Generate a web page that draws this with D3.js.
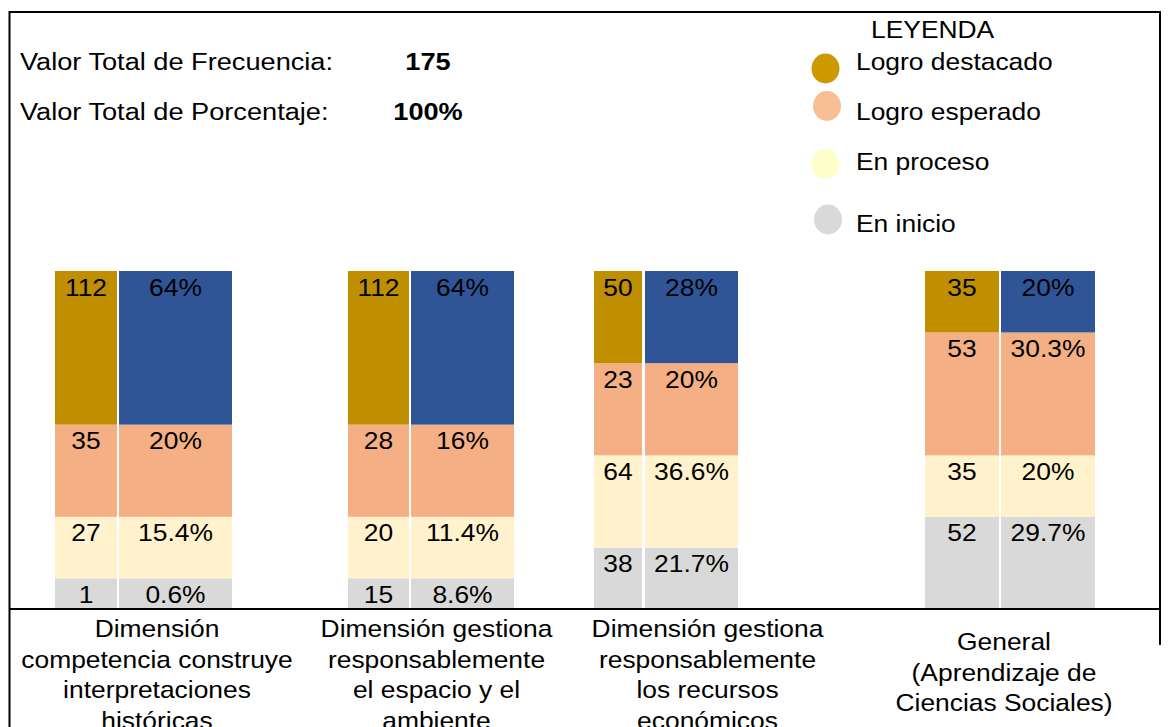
<!DOCTYPE html>
<html><head><meta charset="utf-8">
<script src="https://cdn.jsdelivr.net/npm/d3@7/dist/d3.min.js"></script>
<style>
body{margin:0;background:#fff;}
svg{display:block;font-family:"Liberation Sans",Arial,Helvetica,sans-serif;}
</style>
</head><body>
<svg id="chart" width="1170" height="727"></svg>
<script>
// ---------------- DATA ----------------
const categories = ["competencia", "espacio", "recursos", "general"];
const categoryLabels = [
  ["Dimensión", "competencia construye", "interpretaciones", "históricas"],
  ["Dimensión gestiona", "responsablemente", "el espacio y el", "ambiente"],
  ["Dimensión gestiona", "responsablemente", "los recursos", "económicos"],
  ["General", "(Aprendizaje de", "Ciencias Sociales)"]
];
const levels = ["Logro destacado", "Logro esperado", "En proceso", "En inicio"];
// values per category, in order of levels (top to bottom)
const frequencies = [
  [112, 35, 27, 1],
  [112, 28, 20, 15],
  [50, 23, 64, 38],
  [35, 53, 35, 52]
];
const percentages = [
  [64, 20, 15.4, 0.6],
  [64, 16, 11.4, 8.6],
  [28, 20, 36.6, 21.7],
  [20, 30.3, 20, 29.7]
];
// drawn height of each segment (in blocks)
const segmentBlocks = [
  [5, 3, 2, 1],
  [5, 3, 2, 1],
  [3, 3, 3, 2],
  [2, 4, 2, 3]
];
const totalFrequency = 175;
const totalPercentage = 100;
const legendTitle = "LEYENDA";

// ---------------- STYLE / LAYOUT ----------------
const W = 1170, H = 727;
const freqColors = ["#BF8F00", "#F4B084", "#FFF2CC", "#D9D9D9"];
const pctColors  = ["#2F5597", "#F4B084", "#FFF2CC", "#D9D9D9"];
const legendColors = ["#CC9900", "#F8BF95", "#FFFFCC", "#D9D9D9"];
const FONT = 24, SX = 1.1;

const groupLeft  = d3.scaleOrdinal().domain(categories).range([55, 348, 594, 925]);
const freqWidth  = d3.scaleOrdinal().domain(categories).range([62, 61, 48, 74]);
const barGap     = d3.scaleOrdinal().domain(categories).range([2, 2, 3, 2]);
const pctWidth   = d3.scaleOrdinal().domain(categories).range([113, 103, 93, 94]);
const labelX     = d3.scaleOrdinal().domain(categories).range([157, 436.5, 707.5, 1004]);
const labelY0    = d3.scaleOrdinal().domain(categories).range([637, 637, 637, 650]);

const totalBlocks = d3.max(segmentBlocks, d => d3.sum(d));
const y = d3.scaleLinear().domain([0, totalBlocks]).range([609, 271]);

const legendY = d3.scaleOrdinal().domain(levels).range([68.5, 106, 164, 219.5]);
const legendX = d3.scaleOrdinal().domain(levels).range([825.5, 827, 825.5, 828]);
const legendTextY = d3.scaleOrdinal().domain(levels).range([70, 119.5, 170, 231.5]);

const svg = d3.select("#chart");

function txt(g, x, yy, s, opts = {}) {
  return g.append("text")
    .attr("transform", `translate(${x},${yy}) scale(${SX},1)`)
    .attr("text-anchor", opts.anchor || "start")
    .attr("font-size", opts.size || FONT)
    .attr("font-weight", opts.weight || "normal")
    .attr("fill", "#000")
    .text(s);
}

// border lines
const border = svg.append("g").attr("stroke", "#000").attr("stroke-width", 2).attr("fill", "none");
border.append("path").attr("d", `M9.5,${H} V12 H1160 V645`);

// header
const header = svg.append("g");
txt(header, 20, 70, "Valor Total de Frecuencia:", {size: 24.7});
txt(header, 428, 70, String(totalFrequency), {anchor: "middle", weight: "bold", size: 24.7});
txt(header, 20, 120, "Valor Total de Porcentaje:", {size: 24.7});
txt(header, 428, 120, totalPercentage + "%", {anchor: "middle", weight: "bold", size: 24.7});

// legend
const legend = svg.append("g");
txt(legend, 871, 38, legendTitle);
levels.forEach((lv, i) => {
  legend.append("ellipse")
    .attr("cx", legendX(lv)).attr("cy", legendY(lv))
    .attr("rx", 14).attr("ry", 15)
    .attr("fill", legendColors[i]);
  txt(legend, 856, legendTextY(lv), lv);
});

// bars
const stackKeys = d3.range(levels.length).reverse(); // bottom first
categories.forEach((cat, ci) => {
  const blocks = segmentBlocks[ci];
  let acc = 0;
  const segs = stackKeys.map(k => {
    const s = {k, y0: acc, y1: acc + blocks[k]};
    acc += blocks[k];
    return s;
  });
  const g = svg.append("g");
  const fx = groupLeft(cat), fw = freqWidth(cat);
  const px = fx + fw + barGap(cat), pw = pctWidth(cat);
  segs.forEach(s => {
    g.append("rect").attr("x", fx).attr("width", fw)
      .attr("y", y(s.y1)).attr("height", y(s.y0) - y(s.y1))
      .attr("fill", freqColors[s.k]);
    g.append("rect").attr("x", px).attr("width", pw)
      .attr("y", y(s.y1)).attr("height", y(s.y0) - y(s.y1))
      .attr("fill", pctColors[s.k]);
    txt(g, fx + fw / 2, y(s.y1) + 24.5, String(frequencies[ci][s.k]), {anchor: "middle"});
    txt(g, px + pw / 2, y(s.y1) + 24.5, percentages[ci][s.k] + "%", {anchor: "middle"});
  });
});

// x axis line
svg.append("line").attr("x1", 9.5).attr("x2", 1160).attr("y1", y(0)).attr("y2", y(0))
  .attr("stroke", "#000").attr("stroke-width", 2);

// category labels
categories.forEach((cat, ci) => {
  const g = svg.append("g");
  categoryLabels[ci].forEach((line, li) => {
    txt(g, labelX(cat), labelY0(cat) + li * 30.5, line, {anchor: "middle"});
  });
});
</script>
</body></html>
